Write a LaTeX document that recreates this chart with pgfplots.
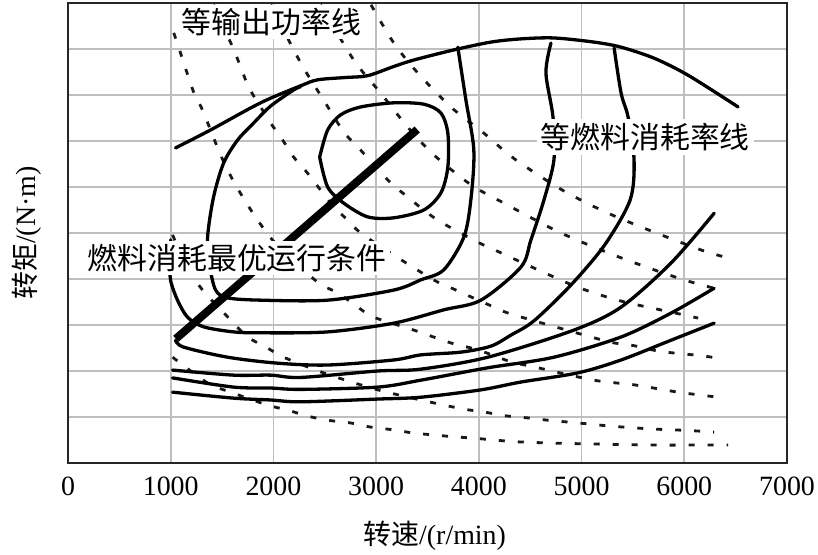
\documentclass[border=0pt]{standalone}
\usepackage{pgfplots}
\pgfplotsset{compat=1.18}
\usepackage{fontspec}
\setmainfont{Liberation Serif}
\newfontfamily\cjk{Noto Sans CJK SC}
\begin{document}
\begin{tikzpicture}
\begin{axis}[
  scale only axis, width=719bp, height=460bp,
  xmin=0, xmax=7000, ymin=0, ymax=10,
  xtick={0,1000,...,7000}, ytick={1,2,...,9}, yticklabels={},
  major tick length=0pt,
  grid=major, grid style={gray!50, line width=1.6bp},
  axis line style={black!85, line width=2.6bp},
  /pgf/number format/assume math mode=true,
  /pgf/number format/1000 sep={},
  tick label style={font=\fontsize{28}{32}\selectfont},
  xticklabel style={yshift=-10bp},
  label style={font=\fontsize{28}{32}\selectfont},
  xlabel={{\cjk 转速}/(r/min)},
  ylabel={{\cjk 转矩}/(N·m)},
  xlabel style={at={(axis description cs:0.51,0)}, anchor=north, yshift=-55bp},
  ylabel style={at={(axis description cs:-0.032,0.5)}, anchor=south},
  solid/.style={black, line width=3.3bp, smooth, line cap=round},
  dsh/.style={black!90, line width=2.8bp, smooth, dash pattern=on 6bp off 13bp},
]
% iso-power dashed lines
\addplot[dsh] coordinates {(1030,9.35) (1096,8.91) (1222,8.07) (1310,7.67) (1466,6.80) (1554,6.37) (1661,5.93) (1846,5.28) (2050,4.70) (2431,3.93) (2626,3.70) (2821,3.39) (2977,3.17) (3366,2.89) (3727,2.61) (3990,2.46) (4312,2.20) (4536,2.09) (5121,1.80) (5511,1.70) (5940,1.54) (6330,1.43)};
\addplot[dsh] coordinates {(1417,9.96) (1603,9.04) (1681,8.61) (1759,8.17) (1875,7.74) (1973,7.39) (2090,7.02) (2197,6.65) (2333,6.30) (2460,5.93) (2587,5.57) (2723,5.28) (2850,5.00) (3150,4.55) (3561,3.98) (3756,3.78) (4146,3.39) (4341,3.22) (5092,2.74) (5317,2.61) (5511,2.55) (5706,2.45) (5901,2.39) (6135,2.34) (6330,2.28)};
\addplot[dsh] coordinates {(1973,9.96) (2265,8.70) (2489,7.89) (2684,7.20) (2850,6.80) (3114,6.15) (3308,5.78) (3503,5.43) (3659,5.20) (3990,4.80) (4185,4.60) (4536,4.24) (4965,3.82) (5385,3.52) (5872,3.28) (6135,3.15)};
\addplot[dsh] coordinates {(2460,9.96) (2782,8.76) (3045,8.04) (3308,7.30) (3561,6.70) (3922,6.05) (4244,5.65) (4800,5.00) (5385,4.46) (5970,4.00) (6359,3.76)};
\addplot[dsh] coordinates {(2950,9.96) (3172,9.13) (3405,8.48) (3727,7.74) (4049,7.17) (4341,6.62) (4800,5.95) (5219,5.47) (5648,5.07) (6165,4.63) (6390,4.48)};
\addplot[dsh] coordinates {(1018,4.96) (1150,4.30) (1310,3.76) (1583,3.11) (1749,2.74) (1943,2.50) (2099,2.30) (2500,1.95) (3000,1.60) (3434,1.37) (3659,1.26) (3854,1.17) (4049,1.11) (4244,1.03) (4478,0.98) (4672,0.93) (4868,0.89) (5063,0.85) (5287,0.80) (5482,0.77) (5677,0.74) (5901,0.72) (6096,0.70) (6291,0.67)};
\addplot[dsh] coordinates {(1018,2.30) (1359,1.74) (1583,1.54) (1943,1.26) (2138,1.15) (2333,1.02) (2528,0.93) (2753,0.87) (2948,0.78) (3172,0.72) (3366,0.65) (3561,0.61) (3756,0.57) (3951,0.54) (4146,0.50) (4380,0.46) (4770,0.43) (5189,0.41) (5677,0.39) (6067,0.39) (6427,0.39)};
% full-load boundary
\addplot[solid] coordinates {(1047,6.85) (1388,7.24) (1875,7.83) (2265,8.20) (2431,8.33) (2700,8.38) (2918,8.42) (3172,8.62) (3366,8.76) (3756,8.98) (4117,9.15) (4410,9.22) (4731,9.24) (5121,9.15) (5384,9.04) (5706,8.80) (6037,8.43) (6524,7.74)};
% inner loop
\addplot[solid] coordinates {(2450,6.65) (2528,7.24) (2655,7.57) (2850,7.74) (3172,7.83) (3464,7.80) (3630,7.61) (3698,7.17) (3698,6.43) (3630,5.87) (3464,5.50) (3172,5.33) (2918,5.35) (2684,5.65) (2528,6.00) (2450,6.65)};
% C3
\addplot[solid] coordinates {(2265,8.18) (2197,8.11) (1973,7.76) (1807,7.39) (1651,7.02) (1515,6.52) (1417,5.78) (1359,4.91) (1378,4.30) (1437,3.76) (1554,3.59) (1875,3.54) (2528,3.54) (3172,3.76) (3434,3.98) (3659,4.20) (3854,4.91) (3922,5.72) (3951,6.80) (3874,7.89) (3795,9.04)};
% C4
\addplot[solid] coordinates {(1000,4.85) (995,4.40) (998,3.98) (1066,3.54) (1164,3.17) (1320,2.96) (1612,2.85) (1875,2.83) (2528,2.85) (3172,3.04) (3659,3.33) (4020,3.54) (4410,4.26) (4507,4.85) (4634,5.72) (4731,6.59) (4722,7.52) (4653,8.48) (4702,9.13)};
% C5
\addplot[solid] coordinates {(1047,2.67) (1125,2.52) (1554,2.30) (2041,2.17) (2528,2.13) (3172,2.24) (3434,2.35) (3825,2.41) (4117,2.54) (4312,2.78) (4536,3.09) (4897,3.87) (5228,4.75) (5473,5.72) (5511,6.59) (5453,7.52) (5385,8.04) (5317,9.02)};
% lower open contours
\addplot[solid] coordinates {(1018,2.02) (1612,1.91) (1973,1.91) (2265,1.86) (3016,2.00) (3434,2.04) (4088,2.30) (4926,2.89) (5385,3.39) (5872,4.35) (6291,5.43)};
\addplot[solid] coordinates {(1018,1.85) (1612,1.65) (1973,1.63) (2265,1.60) (3016,1.65) (3434,1.80) (4088,2.07) (4731,2.30) (5385,2.74) (5872,3.26) (6291,3.80)};
\addplot[solid] coordinates {(1018,1.54) (1612,1.41) (1973,1.37) (2265,1.33) (3016,1.39) (3434,1.43) (4020,1.59) (4410,1.76) (4965,1.96) (5385,2.24) (5872,2.67) (6291,3.04)};
% optimal operating line
\addplot[black, line width=8bp] coordinates {(1050,2.70) (3400,7.25)};
% labels
\node[fill=white, inner sep=3bp, font=\cjk\fontsize{30}{30}\selectfont] at (axis cs:1982,9.59) {等输出功率线};
\node[fill=white, inner sep=4bp, font=\cjk\fontsize{30}{30}\selectfont] at (axis cs:5620,7.09) {等燃料消耗率线};
\node[fill=white, inner sep=3bp, font=\cjk\fontsize{30}{30}\selectfont] at (axis cs:1646,4.46) {燃料消耗最优运行条件};
\coordinate (SW) at (rel axis cs:0,0);
\coordinate (NE) at (rel axis cs:1,1);
\end{axis}
\pgfresetboundingbox
\path[use as bounding box] ([shift={(-68bp,-92bp)}]SW) rectangle ([shift={(31bp,3bp)}]NE);
\end{tikzpicture}
\end{document}
